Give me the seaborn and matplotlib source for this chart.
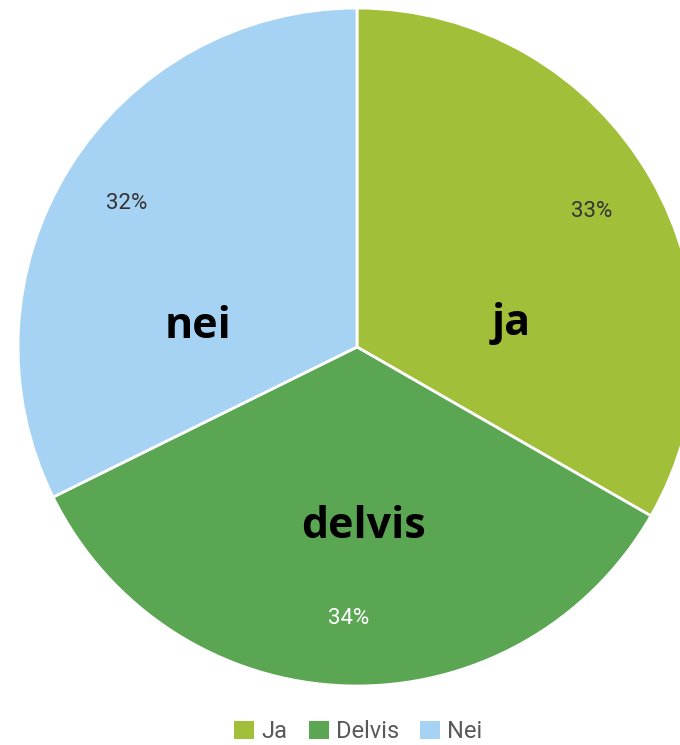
import matplotlib
matplotlib.use("Agg")
import matplotlib.pyplot as plt
import seaborn as sns
from matplotlib.patches import Patch

# data
categories = ['Ja', 'Delvis', 'Nei']
inner_labels = ['ja', 'delvis', 'nei']
shares = [33.3, 34.4, 32.3]
colors = ['#A2BF39', '#5BA652', '#A6D3F3']
pct_colors = ['#333333', '#FFFFFF', '#333333']

# hand placed positions of the big labels (pie radius units)
inner_pos = [(0.455, 0.07), (0.02, -0.53), (-0.47, 0.06)]

sns.set_theme(style="white")
plt.rcParams['font.family'] = ['Roboto', 'DejaVu Sans']

fig = plt.figure(figsize=(6.8, 7.45), dpi=100)
ax = fig.add_axes([0.0265, 0.0792, 0.997, 0.910])

wedges, texts, autotexts = ax.pie(
    shares, colors=sns.color_palette(colors), startangle=90, counterclock=False,
    autopct=lambda p: f'{p:.0f}%', pctdistance=0.8, radius=1.0,
    wedgeprops=dict(edgecolor='white', linewidth=2),
    textprops=dict(fontsize=16))
for t, c in zip(autotexts, pct_colors):
    t.set_color(c)

for lab, (x, y) in zip(inner_labels, inner_pos):
    ax.text(x, y, lab, ha='center', va='center', fontsize=31, fontweight='bold',
            color='black', family=['Open Sans', 'Roboto', 'DejaVu Sans'])

ax.set_xlim(-1, 1)
ax.set_ylim(-1, 1)
ax.set_aspect('equal')
ax.axis('off')

handles = [Patch(facecolor=c, edgecolor='none') for c in colors]
fig.legend(handles, categories, loc='lower center', bbox_to_anchor=(0.527, -0.026),
           ncol=3, frameon=False, fontsize=17, handlelength=0.85, handleheight=0.85,
           handletextpad=0.3, columnspacing=0.9, labelcolor='#595959')

fig.savefig('out.png', dpi=100)
